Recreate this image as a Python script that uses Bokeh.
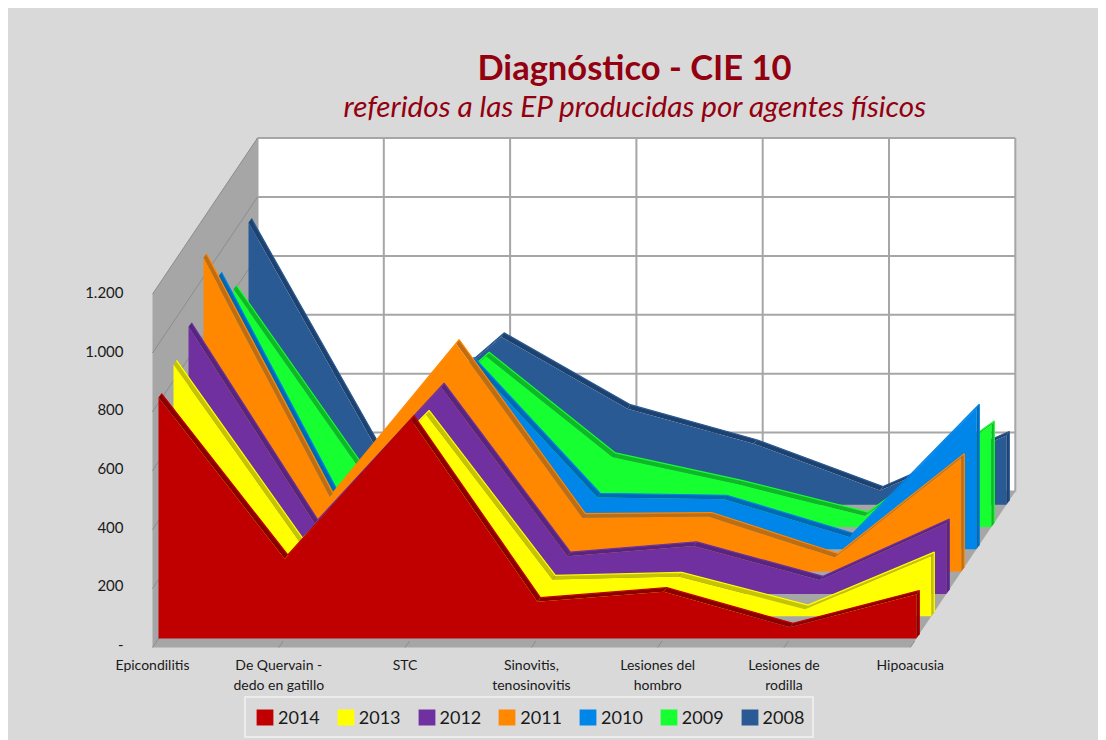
from bokeh.plotting import figure
from bokeh.models import (Range1d, LinearAxis, FixedTicker, AllLabels, Label, Legend, LegendItem)
from bokeh.embed import file_html
from bokeh.resources import INLINE

# ---------- data ----------
categories = ["Epicondilitis", "De Quervain -\ndedo en gatillo", "STC", "Sinovitis,\ntenosinovitis",
              "Lesiones del\nhombro", "Lesiones de\nrodilla", "Hipoacusia"]
v2014 = [818, 270, 743, 125, 159, 38, 149]
v2013 = [855, 251, 685, 125, 135, 24, 204]
v2012 = [907, 238, 702, 128, 163, 46, 241]
v2011 = [1066, 254, 774, 183, 187, 48, 387]
v2010 = [927, 120, 638, 176, 170, 41, 479]
v2009 = [807, 197, 580, 238, 145, 37, 346]
v2008 = [958, 200, 570, 326, 207, 48, 235]
years = ["2014", "2013", "2012", "2011", "2010", "2009", "2008"]
series = [v2014, v2013, v2012, v2011, v2010, v2009, v2008]
face_colors = ["#c00000", "#ffff00", "#7030a0", "#ff8800", "#0085e8", "#16ff30", "#2a5a94"]
edge_colors = ["#8a0000", "#c4c400", "#552580", "#c06c10", "#0068b4", "#10b826", "#1d4270"]
y_ticks = [0, 200, 400, 600, 800, 1000, 1200]
y_labels = ["-", "200", "400", "600", "800", "1.000", "1.200"]

# ---------- projection (pixels per unit of the two axes, and the oblique depth) ----------
PX_X, PX_Y = 126.3, 0.2945
X0_PX, Y0_PX = 152, 647            # page position of category 0 / value 0
FRAME_L, FRAME_R, FRAME_T, FRAME_B = 8, 1098, 8, 740
AXIS_X_PX, AXIS_Y_PX = 129, 653
WALL_DX, WALL_DY = 105 / PX_X, 156 / PX_Y
SER_X0, SER_Y0 = 6 / PX_X, 9 / PX_Y
SER_DX, SER_DY = 15 / PX_X, 22.3 / PX_Y
THICK_DX, THICK_DY = 3 / PX_X, 4 / PX_Y


def dx(px):
    return (px - X0_PX) / PX_X


def dy(py):
    return (Y0_PX - py) / PX_Y


p = figure(width=1090, height=732, output_backend="svg", toolbar_location=None,
           x_range=Range1d(dx(FRAME_L), dx(FRAME_R)), y_range=Range1d(dy(FRAME_B), dy(FRAME_T)),
           min_border_left=0, min_border_right=0, min_border_top=0, min_border_bottom=0,
           frame_width=FRAME_R - FRAME_L, frame_height=FRAME_B - FRAME_T,
           background_fill_color=None, border_fill_color=None, outline_line_color=None,
           x_axis_location=None, y_axis_location=None, margin=(8, 0, 0, 8),
           styles={"background-color": "#d9d9d9"})
p.grid.visible = False

# ---------- walls ----------
n = len(categories) - 1
top = y_ticks[-1]
GRAY = "#a6a6a6"
p.patch([0, WALL_DX, WALL_DX, 0], [0, WALL_DY, top + WALL_DY, top], fill_color=GRAY, line_color=None)
p.patch([0, n, n + WALL_DX, WALL_DX], [0, 0, WALL_DY, WALL_DY], fill_color=GRAY, line_color=None)
p.patch([WALL_DX, n + WALL_DX, n + WALL_DX, WALL_DX], [WALL_DY, WALL_DY, top + WALL_DY, top + WALL_DY],
        fill_color="#ffffff", line_color=None)
xs = list(range(n + 1))
p.segment([WALL_DX] * len(y_ticks), [t + WALL_DY for t in y_ticks],
          [n + WALL_DX] * len(y_ticks), [t + WALL_DY for t in y_ticks], line_color=GRAY, line_width=2)
p.segment([i + WALL_DX for i in xs], [WALL_DY] * len(xs),
          [i + WALL_DX for i in xs], [top + WALL_DY] * len(xs), line_color=GRAY, line_width=2)
p.segment([0] * len(y_ticks), y_ticks, [WALL_DX] * len(y_ticks), [t + WALL_DY for t in y_ticks],
          line_color="#8c8c8c", line_width=1)
p.segment(xs[1:], [0] * n, [i + 0.035 for i in xs[1:]], [22] * n, line_color="#8c8c8c", line_width=1)

# ---------- series, back to front ----------
items = []
for s in range(len(series) - 1, -1, -1):
    off_x = SER_X0 + s * SER_DX
    off_y = SER_Y0 + s * SER_DY
    px = [i + off_x for i in xs]
    py = [v + off_y for v in series[s]]
    qx, qy = [], []
    for i in range(n):
        qx.append([px[i], px[i + 1], px[i + 1] + THICK_DX, px[i] + THICK_DX])
        qy.append([py[i], py[i + 1], py[i + 1] + THICK_DY, py[i] + THICK_DY])
    qx.append([px[n], px[n], px[n] + THICK_DX, px[n] + THICK_DX])
    qy.append([py[n], off_y, off_y + THICK_DY, py[n] + THICK_DY])
    p.patches(qx, qy, fill_color=edge_colors[s], line_color=None)
    p.line([x + THICK_DX for x in px] + [px[n] + THICK_DX], [y + THICK_DY for y in py] + [off_y + THICK_DY],
           line_color=face_colors[s], line_width=1.2)
    r = p.patch(px + [px[n], px[0]], py + [off_y, off_y], fill_color=face_colors[s], line_color=None)
    items.insert(0, LegendItem(label=years[s], renderers=[r]))

# ---------- axes ----------
xaxis = LinearAxis(ticker=FixedTicker(ticks=xs), fixed_location=dy(AXIS_Y_PX),
                   major_label_overrides={i: c for i, c in enumerate(categories)},
                   major_label_policy=AllLabels(), axis_line_color=None,
                   major_tick_line_color=None, minor_tick_line_color=None,
                   major_label_text_font="Lato", major_label_text_font_size="14px",
                   major_label_text_color="#1a1a1a", major_label_standoff=-4)
p.add_layout(xaxis, "below")

p.extra_y_ranges = {"ticks": Range1d((644 - FRAME_B) / 0.2933, (644 - FRAME_T) / 0.2933)}
yaxis = LinearAxis(y_range_name="ticks", ticker=FixedTicker(ticks=y_ticks), fixed_location=dx(AXIS_X_PX),
                   major_label_overrides=dict(zip(y_ticks, y_labels)),
                   major_label_policy=AllLabels(), axis_line_color=None,
                   major_tick_line_color=None, minor_tick_line_color=None,
                   major_label_text_font="Lato", major_label_text_font_size="15px",
                   major_label_text_color="#1a1a1a", major_label_standoff=0)
p.add_layout(yaxis, "left")

# ---------- titles ----------
p.add_layout(Label(x=dx(634), y=dy(66), text="Diagnóstico - CIE 10", text_align="center",
                   text_baseline="middle", text_font="Lato", text_font_style="bold",
                   text_font_size="34.5px", text_color="#930010"))
p.add_layout(Label(x=dx(635), y=dy(105), text="referidos a las EP producidas por agentes físicos",
                   text_align="center", text_baseline="middle", text_font="Lato",
                   text_font_style="italic", text_font_size="29.7px", text_color="#930010"))

# ---------- legend ----------
legend = Legend(items=items, orientation="horizontal", location=(236, 2), margin=0,
                padding=8, spacing=15, label_standoff=3, glyph_width=21, glyph_height=20,
                label_text_font="Lato", label_text_font_size="18px", label_text_color="#1a1a1a",
                background_fill_color="#d9d9d9", background_fill_alpha=1,
                border_line_color="#ffffff", border_line_width=2)
p.add_layout(legend, "center")

open("out.html", "w").write(file_html(p, INLINE))
